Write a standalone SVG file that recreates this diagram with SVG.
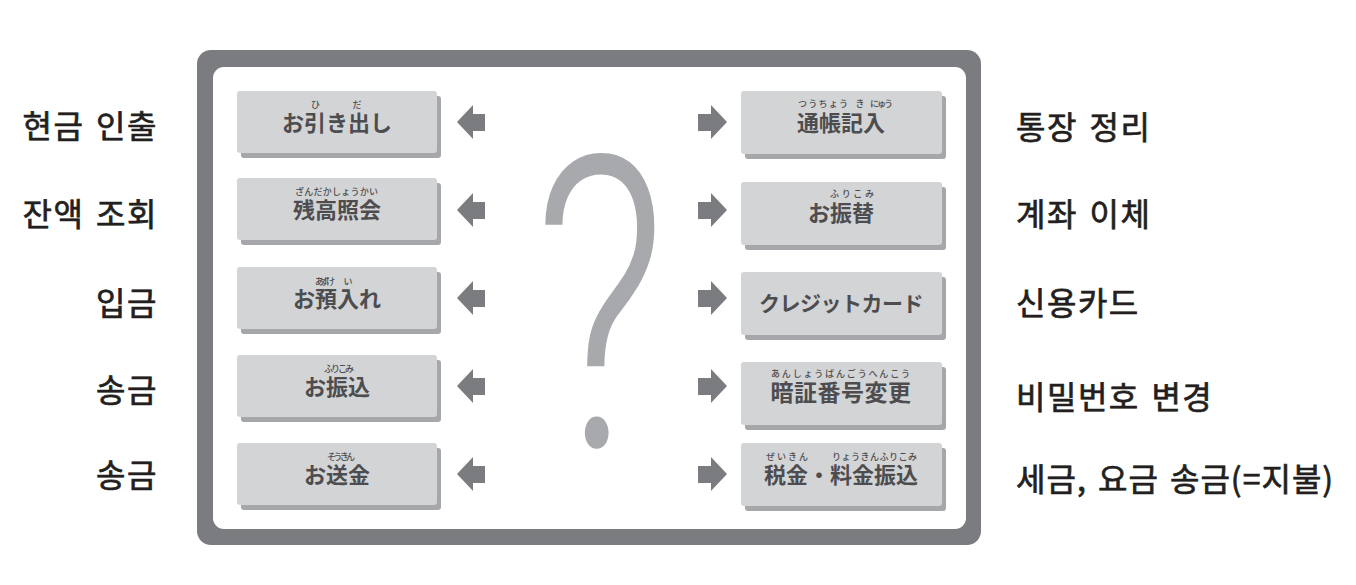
<svg xmlns="http://www.w3.org/2000/svg" width="1356" height="585" viewBox="0 0 1356 585">
<style>
.frame{fill:#7b7c7f}
.inner{fill:#ffffff}
.btn{fill:#d3d4d6}
.shd{fill:#a6a7aa}
.main{font-family:"Noto Sans CJK JP","Noto Sans CJK KR",sans-serif;font-size:22px;font-weight:700;fill:#4d4d4f;text-anchor:middle}
.ruby{font-family:"Noto Sans CJK JP",sans-serif;font-size:9px;font-weight:500;fill:#4d4d4f}
.lab{font-family:"Noto Sans CJK KR",sans-serif;font-size:32px;font-weight:400;fill:#231f20;stroke:#231f20;stroke-width:0.7px;letter-spacing:1.5px;word-spacing:3px}
.labL{text-anchor:end}
.arr{fill:#7b7c7f}
.q{font-family:Roboto,"Liberation Sans",sans-serif;font-size:408px;font-weight:300;fill:#a7a9ac;text-anchor:middle}
</style>
<defs>
<path id="la" d="M0,0 L16,-17 L16,-8 L28,-8 L28,9 L16,9 L16,17 Z"/>
<path id="ra" d="M0,0 L-16,-17 L-16,-8 L-29,-8 L-29,9 L-16,9 L-16,17 Z"/>
</defs>
<g id="frame">
<rect class="frame" x="197" y="50" width="784" height="495" rx="14"/>
<rect class="inner" x="213" y="67" width="753" height="462" rx="11"/>
</g>
<g id="question">
<text class="q" transform="translate(600,447) scale(0.72,1)" x="0" y="0">?</text>
</g>
<g id="left-buttons">
<g id="btn-hikidashi">
<rect class="shd" x="241" y="96" width="200" height="62" rx="3"/>
<rect class="btn" x="237" y="91" width="200" height="62" rx="3"/>
<text class="ruby" x="315.5" y="108" text-anchor="middle">ひ</text>
<text class="ruby" x="357" y="108" text-anchor="middle">だ</text>
<text class="main" x="337" y="131">お引き出し</text>
</g>
<g id="btn-zandaka">
<rect class="shd" x="241" y="183" width="200" height="62" rx="3"/>
<rect class="btn" x="237" y="178" width="200" height="62" rx="3"/>
<text class="ruby" x="295" y="195" textLength="83" lengthAdjust="spacing">ざんだかしょうかい</text>
<text class="main" x="337" y="218">残高照会</text>
</g>
<g id="btn-azukeire">
<rect class="shd" x="241" y="272" width="200" height="62" rx="3"/>
<rect class="btn" x="237" y="267" width="200" height="62" rx="3"/>
<text class="ruby" x="315" y="285" textLength="20" lengthAdjust="spacing">あずけ</text>
<text class="ruby" x="348" y="285" text-anchor="middle">い</text>
<text class="main" x="337" y="307">お預入れ</text>
</g>
<g id="btn-furikomi">
<rect class="shd" x="241" y="360" width="200" height="62" rx="3"/>
<rect class="btn" x="237" y="355" width="200" height="62" rx="3"/>
<text class="ruby" x="324" y="372" textLength="30" lengthAdjust="spacing">ふりこみ</text>
<text class="main" x="337" y="395">お振込</text>
</g>
<g id="btn-soukin">
<rect class="shd" x="241" y="448" width="200" height="62" rx="3"/>
<rect class="btn" x="237" y="443" width="200" height="62" rx="3"/>
<text class="ruby" x="327" y="460" textLength="28" lengthAdjust="spacing">そうきん</text>
<text class="main" x="337" y="483">お送金</text>
</g>
</g>
<g id="right-buttons">
<g id="btn-tsuchokinyu">
<rect class="shd" x="745" y="96" width="201" height="63" rx="3"/>
<rect class="btn" x="741" y="91" width="201" height="63" rx="3"/>
<text class="ruby" x="798" y="107" textLength="50" lengthAdjust="spacing">つうちょう</text>
<text class="ruby" x="860" y="107" text-anchor="middle">き</text>
<text class="ruby" x="870" y="107" textLength="23" lengthAdjust="spacing">にゅう</text>
<text class="main" x="841" y="131">通帳記入</text>
</g>
<g id="btn-furikae">
<rect class="shd" x="745" y="187" width="201" height="63" rx="3"/>
<rect class="btn" x="741" y="182" width="201" height="63" rx="3"/>
<text class="ruby" x="830" y="197" textLength="44" lengthAdjust="spacing">ふりこみ</text>
<text class="main" x="841" y="221">お振替</text>
</g>
<g id="btn-credit">
<rect class="shd" x="745" y="277" width="201" height="63" rx="3"/>
<rect class="btn" x="741" y="272" width="201" height="63" rx="3"/>
<text class="main" x="841" y="311" style="font-size:21px;letter-spacing:-0.5px">クレジットカード</text>
</g>
<g id="btn-pin">
<rect class="shd" x="745" y="367" width="201" height="63" rx="3"/>
<rect class="btn" x="741" y="362" width="201" height="63" rx="3"/>
<text class="ruby" x="771" y="377" textLength="139" lengthAdjust="spacing">あんしょうばんごうへんこう</text>
<text class="main" x="841" y="401" style="font-size:23px;letter-spacing:0.5px">暗証番号変更</text>
</g>
<g id="btn-zeikin">
<rect class="shd" x="745" y="448" width="201" height="63" rx="3"/>
<rect class="btn" x="741" y="443" width="201" height="63" rx="3"/>
<text class="ruby" x="766" y="460" textLength="42" lengthAdjust="spacing">ぜいきん</text>
<text class="ruby" x="832" y="460" textLength="85" lengthAdjust="spacing">りょうきんふりこみ</text>
<text class="main" x="841" y="483">税金・料金振込</text>
</g>
</g>
<g id="connectors">
<use href="#la" class="arr" x="457" y="122"/>
<use href="#la" class="arr" x="457" y="210"/>
<use href="#la" class="arr" x="457" y="298"/>
<use href="#la" class="arr" x="457" y="386"/>
<use href="#la" class="arr" x="457" y="474"/>
<use href="#ra" class="arr" x="727" y="122"/>
<use href="#ra" class="arr" x="727" y="210"/>
<use href="#ra" class="arr" x="727" y="298"/>
<use href="#ra" class="arr" x="727" y="386"/>
<use href="#ra" class="arr" x="727" y="474"/>
</g>
<g id="left-labels">
<text class="lab labL" x="158" y="138">현금 인출</text>
<text class="lab labL" x="158" y="226">잔액 조회</text>
<text class="lab labL" x="158" y="315">입금</text>
<text class="lab labL" x="158" y="402">송금</text>
<text class="lab labL" x="158" y="487">송금</text>
</g>
<g id="right-labels">
<text class="lab" x="1016" y="139">통장 정리</text>
<text class="lab" x="1016" y="226">계좌 이체</text>
<text class="lab" x="1016" y="315">신용카드</text>
<text class="lab" x="1016" y="409">비밀번호 변경</text>
<text class="lab" x="1016" y="491" style="letter-spacing:1px">세금, 요금 송금(=지불)</text>
</g>
</svg>
